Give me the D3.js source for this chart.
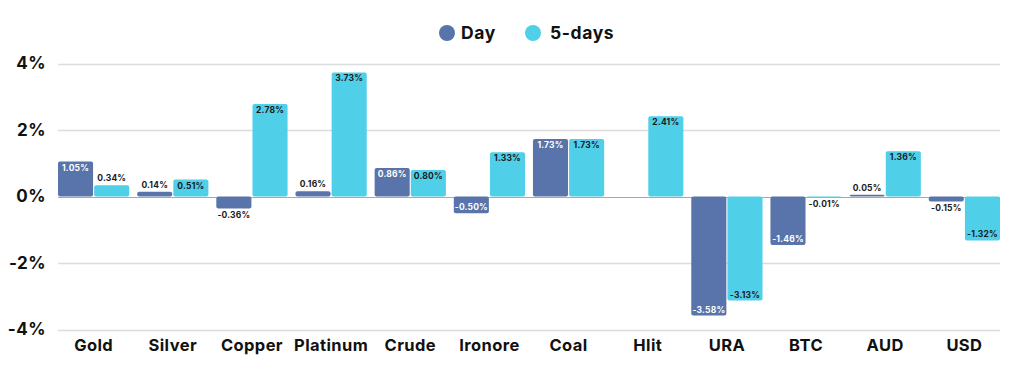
<!DOCTYPE html>
<html><head><meta charset="utf-8">
<script src="https://cdn.jsdelivr.net/npm/d3@7"></script>
<style>
body{margin:0;background:#fff;}
svg{display:block;font-family:"Inter","Noto Sans",sans-serif;}
</style></head>
<body>
<svg id="chart" width="1024" height="370"></svg>
<script>
const categories = ["Gold","Silver","Copper","Platinum","Crude","Ironore","Coal","Hlit","URA","BTC","AUD","USD"];
const dayValues = [1.05,0.14,-0.36,0.16,0.86,-0.50,1.73,0,-3.58,-1.46,0.05,-0.15];
const fiveDayValues = [0.34,0.51,2.78,3.73,0.80,1.33,1.73,2.41,-3.13,-0.01,1.36,-1.32];
const seriesNames = ["Day","5-days"];
const yTicks = [-4,-2,0,2,4];
const colors = ["#5874aa","#50cfe9"];

const svg = d3.select("#chart");
const x0 = d3.scaleBand().domain(categories).range([58,1000]).paddingInner(0.1).paddingOuter(0);
const x1 = d3.scaleBand().domain(seriesNames).range([0,x0.bandwidth()]).paddingInner(0.03);
const y = d3.scaleLinear().domain([-4,4]).range([329.5,63.5]);

// gridlines
svg.append("g").selectAll("line").data(yTicks).join("line")
  .attr("x1",58).attr("x2",1000)
  .attr("y1",d=>Math.round(y(d))+0.5).attr("y2",d=>Math.round(y(d))+0.5)
  .attr("stroke",d=>d===0?"#a8a8a8":"#dcdcdc").attr("stroke-width",d=>d===0?1.2:1.5);

// y axis labels
const yAxis = d3.axisLeft(y).tickValues(yTicks).tickFormat(d=>(d<0?"-":"")+Math.abs(d)+"%").tickSize(0).tickPadding(0);
const ya = svg.append("g").attr("transform","translate(46,0)").call(yAxis);
ya.select(".domain").remove();
ya.selectAll("text").attr("font-size",17).attr("font-weight",700).attr("fill","#111")
  .attr("letter-spacing",0.5).attr("font-family","Inter, sans-serif");

// x axis labels
const xAxis = d3.axisBottom(x0).tickSize(0).tickPadding(0);
const xa = svg.append("g").attr("transform","translate(0,339)").call(xAxis);
xa.select(".domain").remove();
xa.selectAll("text").attr("font-size",16.5).attr("font-weight",700).attr("fill","#111")
  .attr("letter-spacing",0.4).attr("font-family","Inter, sans-serif");

const rows = categories.map((c,i)=>({cat:c, vals:[dayValues[i], fiveDayValues[i]]}));
const groups = svg.append("g").selectAll("g").data(rows).join("g")
  .attr("transform",d=>`translate(${x0(d.cat)},0)`);

const bars = groups.selectAll("g").data(d=>d.vals.map((v,k)=>({v,k,s:seriesNames[k]}))).join("g");
bars.filter(d=>d.v!==0).append("rect")
  .attr("x",d=>x1(d.s)).attr("width",x1.bandwidth())
  .attr("y",d=>Math.min(y(d.v),y(0)))
  .attr("height",d=>Math.max(Math.abs(y(d.v)-y(0)),1.5))
  .attr("rx",2).attr("ry",2)
  .attr("fill",d=>colors[d.k]);

const fmt = v => v.toFixed(2)+"%";
bars.filter(d=>d.v!==0).append("text")
  .attr("x",d=>x1(d.s)+x1.bandwidth()/2)
  .attr("y",d=>{
    const inside = Math.abs(d.v)>=0.45;
    if(d.v>0) return inside ? y(d.v)+6 : y(d.v)-7;
    return inside ? y(d.v)-6 : y(d.v)+7;
  })
  .attr("dy","0.35em")
  .attr("text-anchor","middle")
  .attr("font-size",8.5).attr("font-weight",700).attr("letter-spacing",0.2)
  .attr("fill",d=>(d.k===0 && Math.abs(d.v)>=0.45)?"#fff":"#1a1a1a")
  .text(d=>fmt(d.v));

// legend
const leg = svg.append("g");
const legItems = [{n:"Day",cx:447,tx:461},{n:"5-days",cx:533,tx:550}];
legItems.forEach((it,i)=>{
  leg.append("circle").attr("cx",it.cx).attr("cy",33).attr("r",8).attr("fill",colors[i]);
  leg.append("text").attr("x",it.tx).attr("y",33).attr("dy","0.35em")
    .attr("font-size",17.5).attr("font-weight",700).attr("letter-spacing",0.6).attr("fill","#111").text(seriesNames[i]);
});
</script>
</body></html>
